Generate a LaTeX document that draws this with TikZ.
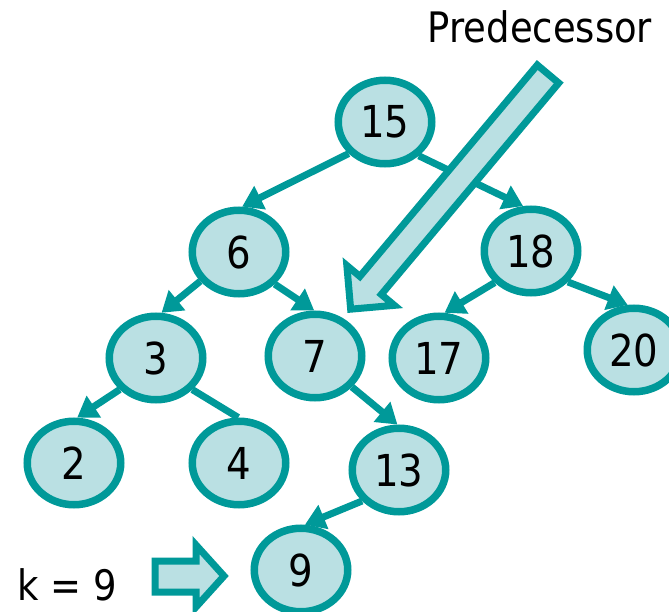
\documentclass[tikz,border=0pt]{standalone}
\usepackage{fontspec}
\setmainfont{DejaVu Sans}[FakeStretch=0.88]
\usetikzlibrary{shapes.geometric,arrows.meta}
\definecolor{teal1}{HTML}{009999}
\definecolor{lightfill}{HTML}{BAE0E3}
\begin{document}
\begin{tikzpicture}[x=1pt,y=-1pt,
  bnode/.style={ellipse,draw=teal1,fill=lightfill,line width=7.5pt,minimum width=93.5pt,minimum height=83.5pt,inner sep=0pt,font=\fontsize{44}{44}\selectfont},
  edge/.style={draw=teal1,line width=7pt,-{Triangle[length=20pt,width=25pt]}},
  plainedge/.style={draw=teal1,line width=7pt},
  blockarrow/.style={draw=teal1,fill=lightfill,line width=7pt,line join=miter},
  lbl/.style={font=\fontsize{42}{42}\selectfont,inner sep=0pt,anchor=base}]
\useasboundingbox (0,0) rectangle (669,612);
\node[bnode] (n15) at (385,122) {15};
\node[bnode] (n6) at (239,252) {6};
\node[bnode] (n18) at (531,251) {18};
\node[bnode] (n3) at (156,358) {3};
\node[bnode] (n7) at (315,356) {7};
\node[bnode] (n17) at (439,358) {17};
\node[bnode] (n20) at (634,350) {20};
\node[bnode] (n2) at (74,463) {2};
\node[bnode] (n4) at (239,463) {4};
\node[bnode] (n13) at (399,470) {13};
\node[bnode] (n9) at (301,570) {9};
\draw[edge] (n15.221) -- (n6.86);
\draw[edge] (n15.315) -- (n18.100);
\draw[edge] (n6.217) -- (n3.83);
\draw[edge] (n6.318) -- (n7.91);
\draw[edge] (n3.221) -- (n2.86);
\draw[plainedge] (n3.319) -- (n4.91);
\draw[edge] (n7.320) -- (n13.92);
\draw[edge] (n13.220) -- (n9.85);
\draw[edge] (n18.221) -- (n17.83);
\draw[edge] (n18.320) -- (n20.98);
\begin{scope}[shift={(548,74)}, rotate=230]
\draw[blockarrow] (0,-14) -- (276,-14) -- (276,-31) -- (307,0) -- (276,31) -- (276,14) -- (0,14) -- cycle;
\end{scope}
\draw[blockarrow] (155,561) -- (196,561) -- (196,545) -- (224,576) -- (196,607) -- (196,592) -- (155,592) -- cycle;
\node[lbl] (pred) at (540,43) {Predecessor};
\node[lbl] (k) at (67.5,600) {k = 9};
\end{tikzpicture}
\end{document}
